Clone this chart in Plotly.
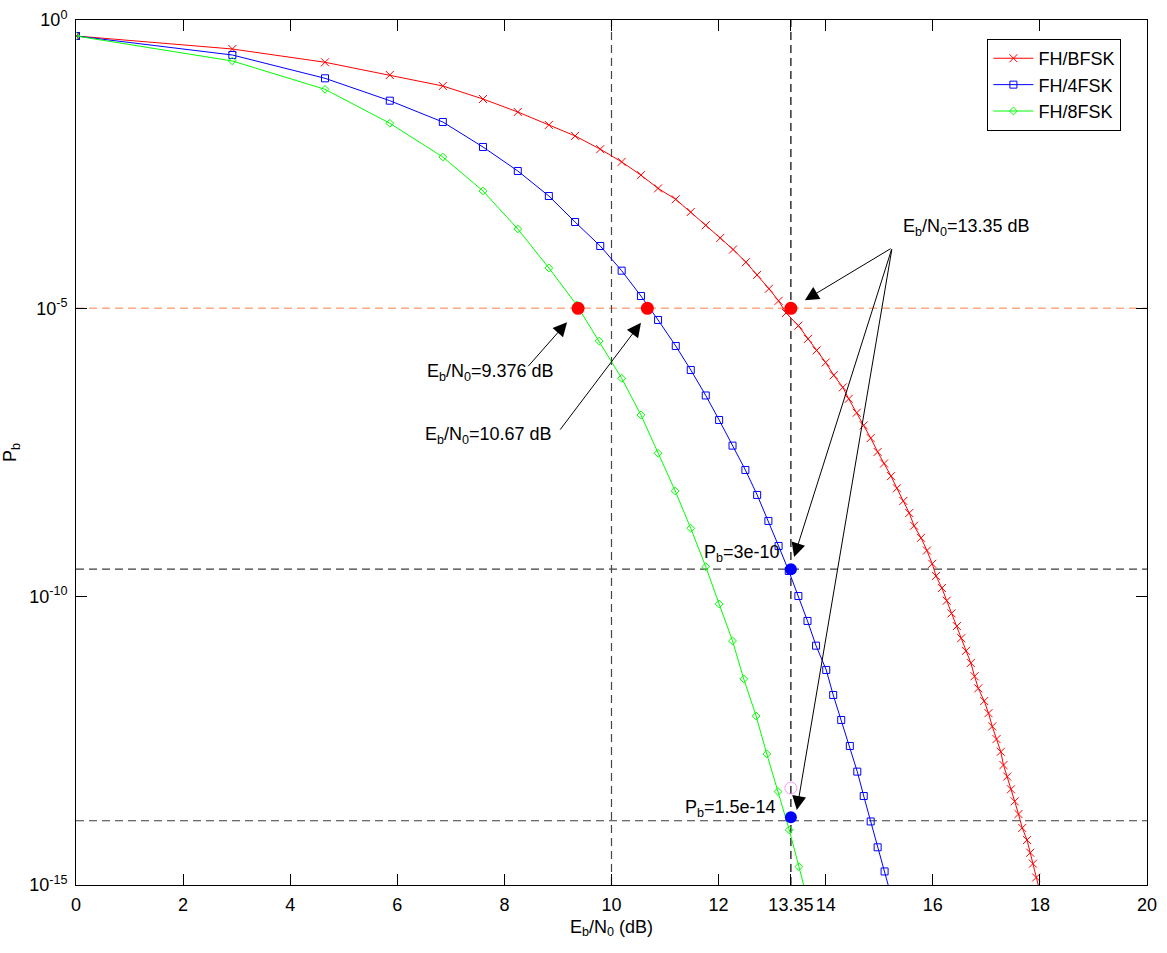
import numpy as np
import plotly.graph_objects as go

# ---------------- data ----------------
# FH/BFSK (red, x markers): Eb/N0 in dB and log10(Pb)
red_x = [0.00, 2.92, 4.65, 5.86, 6.85, 7.60, 8.25, 8.83, 9.32, 9.79, 10.19, 10.55,
         10.87, 11.20, 11.48, 11.76, 12.03, 12.27, 12.51, 12.72, 12.94, 13.12, 13.26,
         13.49, 13.67, 13.83, 14.00, 14.15, 14.32, 14.43, 14.58, 14.71, 14.84, 14.97,
         15.09, 15.22, 15.33, 15.45, 15.56, 15.65, 15.78, 15.89, 15.99, 16.06, 16.17,
         16.26, 16.35, 16.45, 16.53, 16.62, 16.71, 16.78, 16.85, 16.96, 17.04, 17.11,
         17.19, 17.27, 17.32, 17.39, 17.46, 17.53, 17.60, 17.67, 17.76, 17.82, 17.87,
         17.93, 17.99]
red_log_pb = [-0.277, -0.503, -0.733, -0.954, -1.144, -1.37, -1.595, -1.82, -2.01, -2.24,
              -2.46, -2.69, -2.92, -3.11, -3.33, -3.56, -3.78, -3.98, -4.20, -4.42, -4.66,
              -4.87, -5.08, -5.30, -5.53, -5.73, -5.94, -6.16, -6.37, -6.57, -6.81, -7.03,
              -7.25, -7.49, -7.69, -7.91, -8.12, -8.34, -8.55, -8.77, -8.98, -9.20, -9.43,
              -9.64, -9.85, -10.07, -10.29, -10.51, -10.72, -10.94, -11.15, -11.38, -11.59,
              -11.81, -12.02, -12.25, -12.47, -12.69, -12.92, -13.12, -13.34, -13.55,
              -13.77, -14.01, -14.22, -14.44, -14.63, -14.87, -15.08]

# FH/4FSK (blue, square markers)
blue_x = [0.00, 2.92, 4.65, 5.86, 6.85, 7.60, 8.25, 8.83, 9.32, 9.79, 10.19, 10.55, 10.87,
          11.20, 11.48, 11.76, 12.01, 12.26, 12.50, 12.72, 12.93, 13.12, 13.31, 13.49,
          13.66, 13.82, 14.01, 14.14, 14.29, 14.45, 14.59, 14.71, 14.84, 14.97, 15.10,
          15.22]
blue_log_pb = [-0.277, -0.607, -1.011, -1.399, -1.769, -2.202, -2.618, -3.052, -3.503,
               -3.919, -4.347, -4.786, -5.202, -5.653, -6.069, -6.511, -6.936, -7.381,
               -7.803, -8.236, -8.687, -9.121, -9.554, -9.988, -10.421, -10.85, -11.271,
               -11.705, -12.138, -12.589, -13.034, -13.457, -13.898, -14.346, -14.765,
               -15.18]

# FH/8FSK (green, diamond markers)
green_x = [0.00, 2.92, 4.65, 5.86, 6.85, 7.60, 8.25, 8.83, 9.35, 9.77, 10.19, 10.55, 10.87,
           11.19, 11.48, 11.76, 12.01, 12.26, 12.47, 12.70, 12.90, 13.11, 13.32, 13.50,
           13.68]
green_log_pb = [-0.277, -0.711, -1.202, -1.791, -2.376, -2.965, -3.624, -4.300, -4.942,
                -5.566, -6.213, -6.849, -7.513, -8.167, -8.814, -9.480, -10.127, -10.768,
                -11.427, -12.069, -12.728, -13.381, -14.045, -14.682, -15.33]

# highlighted points
red_dot_x = [9.376, 10.67, 13.35]
red_dot_pb = [1e-5, 1e-5, 1e-5]
blue_dot_x = [13.35, 13.35]
blue_dot_pb = [3e-10, 1.5e-14]
ghost_x = [13.35]
ghost_pb = [4.8e-14]

# reference lines
h_orange_pb = 1e-5
h_gray_pb = [3e-10, 1.3e-14]
v_lines_x = [10, 13.35]

x_ticks = [0, 2, 4, 6, 8, 10, 12, 13.35, 14, 16, 18, 20]
x_tick_text = ["0", "2", "4", "6", "8", "10", "12", "13.35", "14", "16", "18", "20"]
y_ticks = [1e-15, 1e-10, 1e-5, 1]
y_tick_text = ["10<sup>-15</sup>", "10<sup>-10</sup>", "10<sup>-5</sup>", "10<sup>0</sup>"]

FONT = "Liberation Sans, Arial, sans-serif"
FS = 18

fig = go.Figure()

# dashed guide lines
fig.add_trace(go.Scatter(x=[0, 20], y=[h_orange_pb, h_orange_pb], mode="lines",
                         line=dict(color="rgb(255,170,130)", width=1.5, dash="8px,5px"),
                         showlegend=False, hoverinfo="skip"))
for yv in h_gray_pb:
    fig.add_trace(go.Scatter(x=[0, 20], y=[yv, yv], mode="lines",
                             line=dict(color="rgb(60,60,60)", width=1.2, dash="8px,5px"),
                             showlegend=False, hoverinfo="skip"))
fig.add_trace(go.Scatter(x=[v_lines_x[0]] * 2, y=[1e-15, 1], mode="lines",
                         line=dict(color="rgb(70,70,70)", width=1.2, dash="8px,5px"),
                         showlegend=False, hoverinfo="skip"))
fig.add_trace(go.Scatter(x=[v_lines_x[1]] * 2, y=[1e-15, 1], mode="lines",
                         line=dict(color="black", width=1.2, dash="8px,5px"),
                         showlegend=False, hoverinfo="skip"))

# curves
fig.add_trace(go.Scatter(x=red_x, y=10 ** np.array(red_log_pb), mode="lines+markers",
                         name="FH/BFSK", line=dict(color="#FF0000", width=1),
                         marker=dict(symbol="x-thin-open", size=8,
                                     line=dict(color="#FF0000", width=1))))
fig.add_trace(go.Scatter(x=blue_x, y=10 ** np.array(blue_log_pb), mode="lines+markers",
                         name="FH/4FSK", line=dict(color="#0000FF", width=1),
                         marker=dict(symbol="square-open", size=7, color="#0000FF",
                                     line=dict(color="#0000FF", width=1))))
fig.add_trace(go.Scatter(x=green_x, y=10 ** np.array(green_log_pb), mode="lines+markers",
                         name="FH/8FSK", line=dict(color="#00FF00", width=1),
                         marker=dict(symbol="diamond-open", size=6, color="#00FF00",
                                     line=dict(color="#00FF00", width=1))))

# highlight dots
fig.add_trace(go.Scatter(x=ghost_x, y=ghost_pb, mode="markers", showlegend=False,
                         marker=dict(symbol="circle-open", size=12,
                                     line=dict(color="rgb(185,185,235)", width=1))))
fig.add_trace(go.Scatter(x=red_dot_x, y=red_dot_pb, mode="markers", showlegend=False,
                         marker=dict(symbol="circle", size=13, color="#FF0000")))
fig.add_trace(go.Scatter(x=blue_dot_x, y=blue_dot_pb, mode="markers", showlegend=False,
                         marker=dict(symbol="circle", size=12, color="#0000FF")))

# arrows (tail -> head), coordinates in data space (log10 for y)
arrows = [
    (15.24, -3.95, 13.61, -4.86),
    (15.24, -3.95, 13.41, -9.31),
    (15.24, -3.95, 13.46, -13.70),
    (8.42, -6.03, 9.17, -5.24),
    (9.02, -7.13, 10.55, -5.25),
]
for ax_, ay_, hx, hy in arrows:
    fig.add_annotation(x=hx, y=hy, ax=ax_, ay=ay_, xref="x", yref="y", axref="x", ayref="y",
                       text="", showarrow=True, arrowhead=2, arrowsize=2.8, arrowwidth=1,
                       arrowcolor="black", standoff=0, startstandoff=0)

# text labels
labels = [
    (15.40, -3.60, "E<sub>b</sub>/N<sub>0</sub>=13.35 dB"),
    (6.52, -6.12, "E<sub>b</sub>/N<sub>0</sub>=9.376 dB"),
    (6.48, -7.21, "E<sub>b</sub>/N<sub>0</sub>=10.67 dB"),
    (11.69, -9.25, "P<sub>b</sub>=3e-10"),
    (11.34, -13.68, "P<sub>b</sub>=1.5e-14"),
]
for lx, ly, txt in labels:
    fig.add_annotation(x=lx, y=ly, xref="x", yref="y", text=txt, showarrow=False,
                       xanchor="left", yanchor="middle",
                       font=dict(family=FONT, size=FS, color="black"))

fig.update_layout(
    width=1167, height=953,
    margin=dict(l=76, r=20, t=20, b=68),
    paper_bgcolor="white", plot_bgcolor="white",
    font=dict(family=FONT, size=FS, color="black"),
    showlegend=True,
    legend=dict(x=0.851, y=0.978, xanchor="left", yanchor="top",
                bgcolor="white", bordercolor="black", borderwidth=1,
                font=dict(family=FONT, size=FS), itemwidth=40,
                tracegroupgap=0),
)
fig.update_xaxes(range=[0, 20], tickvals=x_ticks, ticktext=x_tick_text,
                 ticks="inside", ticklen=11, tickcolor="black", tickwidth=1,
                 showline=True, linecolor="black", linewidth=1, mirror="ticks",
                 showgrid=False, zeroline=False, ticklabelstandoff=3, automargin=False,
                 title=dict(text="E<sub>b</sub>/N<sub>0</sub> (dB)", standoff=6,
                            font=dict(family=FONT, size=FS)))
fig.update_yaxes(type="log", range=[-15, 0], tickvals=y_ticks, ticktext=y_tick_text,
                 ticks="inside", ticklen=11, tickcolor="black", tickwidth=1,
                 showline=True, linecolor="black", linewidth=1, mirror="ticks",
                 showgrid=False, zeroline=False, ticklabelstandoff=4, automargin=False,
                 title=dict(text="P<sub>b</sub>", standoff=18,
                            font=dict(family=FONT, size=FS)))

fig.write_html("out.html")
